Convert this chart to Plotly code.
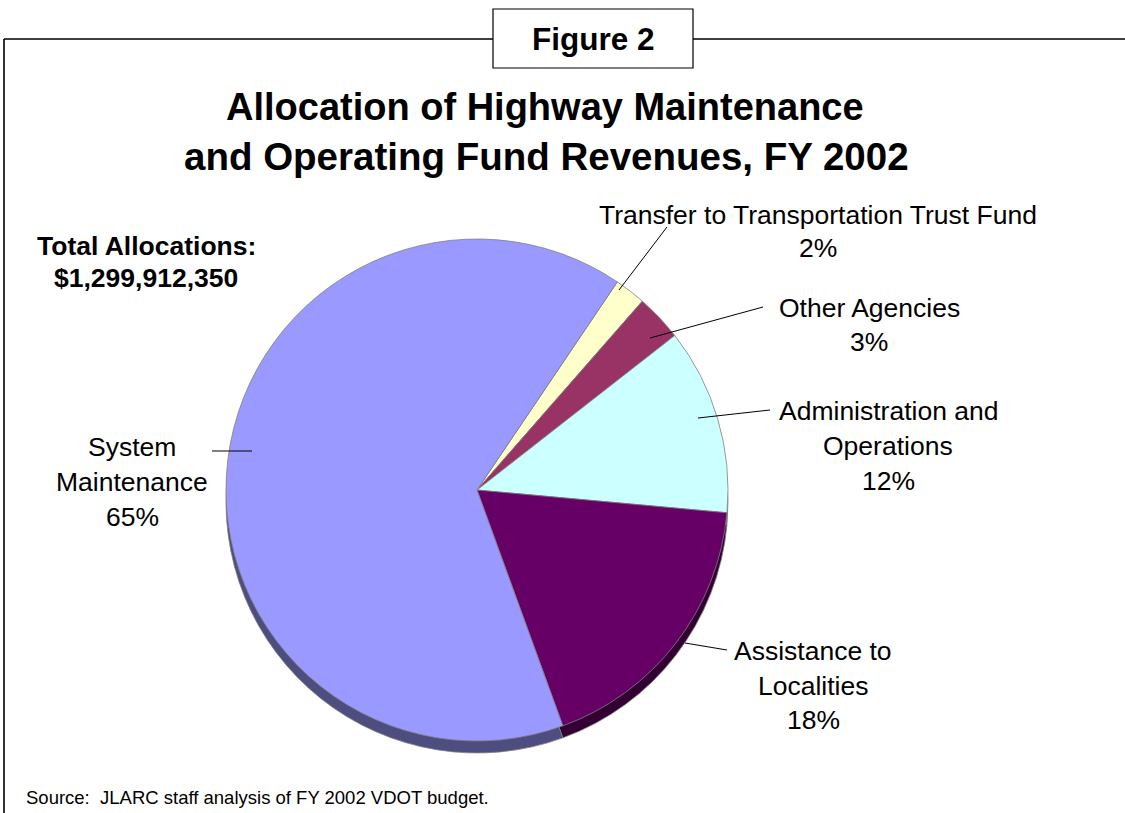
import plotly.graph_objects as go

W, H = 1125, 813

categories = ["Transfer to Transportation Trust Fund", "Other Agencies",
              "Administration and Operations", "Assistance to Localities",
              "System Maintenance"]
shares = [2, 3, 12, 18, 65]
colors = ["#FFFFCC", "#993366", "#CCFFFF", "#660066", "#9999FF"]
shadow_colors = ["#80806A", "#4D1A33", "#668080", "#330033", "#4D4D80"]
total_label = "$1,299,912,350"


def px(x):
    return x / W


def py(y):
    return 1 - y / H


FONT = "Liberation Sans, Arial, sans-serif"

cx, cy, r = 477, 490, 251
shadow_dy = 12

fig = go.Figure()
# shadow (3D edge)
fig.add_trace(go.Pie(
    labels=categories, values=shares, sort=False, direction="clockwise",
    rotation=34, marker=dict(colors=shadow_colors, line=dict(color="#808080", width=0.8)),
    textinfo="none", hoverinfo="skip", showlegend=False,
    domain=dict(x=[px(cx - r), px(cx + r)], y=[py(cy + r + shadow_dy), py(cy - r + shadow_dy)]),
))
fig.add_trace(go.Pie(
    labels=categories, values=shares, sort=False, direction="clockwise",
    rotation=34, marker=dict(colors=colors, line=dict(color="#808080", width=0.8)),
    textinfo="none", showlegend=False,
    domain=dict(x=[px(cx - r), px(cx + r)], y=[py(cy + r), py(cy - r)]),
))

shapes = []
black = dict(color="black", width=1.6)
# frame
shapes.append(dict(type="line", xref="paper", yref="paper", x0=px(4), x1=px(4), y0=py(39), y1=py(813), line=black))
shapes.append(dict(type="line", xref="paper", yref="paper", x0=px(4), x1=px(493), y0=py(39), y1=py(39), line=black))
shapes.append(dict(type="line", xref="paper", yref="paper", x0=px(693), x1=px(1125), y0=py(39), y1=py(39), line=black))
shapes.append(dict(type="rect", xref="paper", yref="paper", x0=px(493), x1=px(693), y0=py(68), y1=py(9),
                   line=dict(color="black", width=1.2), fillcolor="white"))

# leader lines
thin = dict(color="black", width=1)
leaders = [
    ((667, 227), (619, 290)),
    ((763, 307), (650, 338)),
    ((770, 410), (698, 418)),
    ((727, 650), (685, 643)),
    ((212, 451), (252, 451)),
]
for (x0, y0), (x1, y1) in leaders:
    shapes.append(dict(type="line", xref="paper", yref="paper", x0=px(x0), y0=py(y0),
                       x1=px(x1), y1=py(y1), line=thin))

annotations = []


def ann(text, x, y, size, bold=False, xanchor="center"):
    annotations.append(dict(
        text=f"<b>{text}</b>" if bold else text, x=px(x), y=py(y), xref="paper", yref="paper",
        showarrow=False, xanchor=xanchor, yanchor="middle", align=xanchor if xanchor != "center" else "center",
        font=dict(family=FONT, size=size, color="black")))


ann("Figure 2", 593, 39, 31.5, bold=True)
ann("Allocation of Highway Maintenance", 545, 107, 38, bold=True)
ann("and Operating Fund Revenues, FY 2002", 546, 156, 38.5, bold=True)
ann("Total Allocations:", 146, 246, 26.5, bold=True)
ann(total_label, 146, 278, 26.5, bold=True)

LBL = 26.5
label_lines = [
    (818, [(215, "Transfer to Transportation Trust Fund"), (248, "2%")]),
    (869, [(308, "Other Agencies"), (342, "3%")]),
    (888, [(411, "Administration and"), (446, "Operations"), (481, "12%")]),
    (813, [(651, "Assistance to"), (686, "Localities"), (720, "18%")]),
    (132, [(447, "System"), (482, "Maintenance"), (517, "65%")]),
]
for x, lines in label_lines:
    for y, t in lines:
        ann(t, x, y, LBL)

ann("Source:  JLARC staff analysis of FY 2002 VDOT budget.", 24, 797, 18.5, xanchor="left")

fig.update_layout(
    width=W, height=H, margin=dict(l=0, r=0, t=0, b=0),
    paper_bgcolor="white", plot_bgcolor="white",
    shapes=shapes, annotations=annotations, showlegend=False,
)
fig.write_html("out.html", config={"displayModeBar": False},
               post_script="document.body.style.margin='0px';document.body.style.overflow='hidden';")
